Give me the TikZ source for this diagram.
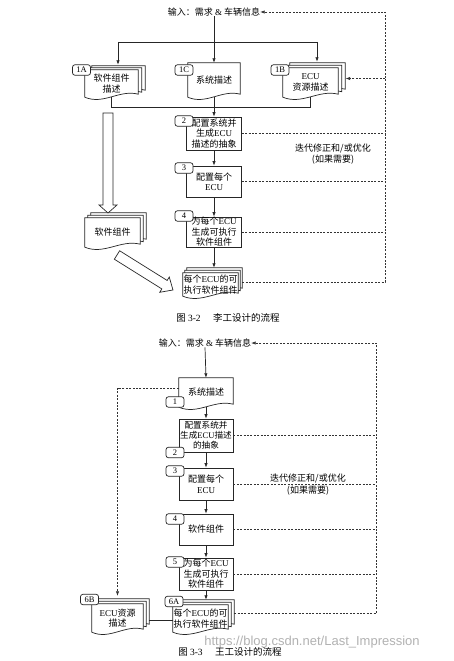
\documentclass[tikz,border=0pt]{standalone}
\usepackage{fontspec}
\setmainfont{Liberation Serif}
\setsansfont{Liberation Sans}
\newfontfamily\cjk{Noto Sans CJK SC}
\usetikzlibrary{arrows.meta,calc}
\pgfdeclarelayer{bg}
\pgfsetlayers{bg,main}
\tikzset{
 ln/.style={line width=0.7pt, draw=black!85},
 arr/.style={ln, -{Latex[length=4.5pt,width=3.4pt]}},
 dsh/.style={line width=0.6pt, draw=black!80, dash pattern=on 2pt off 1.4pt},
 darr/.style={dsh, -{Latex[length=4.5pt,width=3.4pt]}},
 cjkt/.style={font=\cjk\fontsize{9}{10.5}\selectfont, align=center, inner sep=0pt, text=black},
 boxn/.style={cjkt, draw=black!85, line width=0.7pt, fill=white, minimum width=55pt},
 docn/.style={cjkt},
 tagn/.style={draw=black!85, line width=0.7pt, fill=white, rounded corners=2.5pt, minimum width=18pt, minimum height=10.5pt, inner sep=0pt, font=\rmfamily\fontsize{8.5}{8.5}\selectfont},
 docline/.style={line width=0.7pt, draw=black!85, fill=white},
 hollow/.style={line width=0.7pt, draw=black!85, fill=white},
}
\newcommand\docout[3]{%
  \draw[docline] ($(#1.north west)+(#2,#3)$) -- ($(#1.south west)+(#2,#3)$)
   .. controls ($(#1.south west)!0.35!(#1.south east)+(#2,#3)+(0,8)$)
   and ($(#1.south west)!0.65!(#1.south east)+(#2,#3)+(0,-8)$)
   .. ($(#1.south east)+(#2,#3)+(0,-3)$) -- ($(#1.north east)+(#2,#3)$) -- cycle;}
\newcommand\E{{\rmfamily ECU}}
\begin{document}
\begin{tikzpicture}[x=1pt,y=-1pt]
\useasboundingbox (0,0) rectangle (453,661);
\begin{pgfonlayer}{bg}
\fill[white] (0,0) rectangle (453,661);
\end{pgfonlayer}

% ================= top diagram =================
\node[cjkt] (IN1) at (214,12) {输入：需求 {\rmfamily\&} 车辆信息};

\node[docn, minimum width=53pt, minimum height=27pt] (A1) at (111.5,83.5) {软件组件\\描述};
\node[docn, minimum width=52pt, minimum height=34pt] (C1) at (214,80) {系统描述};
\node[docn, minimum width=55pt, minimum height=29pt] (B1) at (310.5,82.5) {\E\\资源描述};

\node[boxn, minimum height=33pt] (B2) at (214,133.5) {配置系统并\\生成\E\\描述的抽象};
\node[boxn, minimum height=31pt] (B3) at (214,181.5) {配置每个\\\E};
\node[boxn, minimum height=30pt] (B4) at (214,232) {为每个\E\\生成可执行\\软件组件};

\node[docn, minimum width=55pt, minimum height=29pt] (SW) at (112.5,232.5) {软件组件};
\node[docn, minimum width=55pt, minimum height=23pt] (F1) at (210.5,284.5) {每个\E 的可\\执行软件组件};

\begin{pgfonlayer}{bg}
\docout{A1}{7}{-4}\docout{A1}{3.5}{-2}\docout{A1}{0}{0}
\docout{C1}{0}{0}
\docout{B1}{7}{-5}\docout{B1}{3.5}{-2.5}\docout{B1}{0}{0}
\docout{SW}{6}{-5}\docout{SW}{3}{-2.5}\docout{SW}{0}{0}
\docout{F1}{4}{-5}\docout{F1}{2}{-2.5}\docout{F1}{0}{0}
\end{pgfonlayer}

\node[tagn] (tA1) at (81.5,70) {1A};
\node[tagn] (tC1) at (184,70) {1C};
\node[tagn] (tB1) at (280,70) {1B};
\node[tagn] (t2) at (184,121) {2};
\node[tagn] (t3) at (184,168) {3};
\node[tagn] (t4) at (184,216) {4};

\coordinate (jL) at (118,42);
\coordinate (jR) at (317,42);
\coordinate (jB) at (214,107);
\draw[arr] (IN1.south) -- (C1.north);
\draw[ln] (jL) -- (jR);
\draw[arr] (jL) -- ($(jL |- A1.north)+(0,-5)$);
\draw[arr] (jR) -- ($(jR |- B1.north)+(0,-6)$);
\draw[ln] (A1.south) -- (A1.south |- jB) -- (B1.south |- jB) -- (B1.south);
\draw[arr] (C1.south) -- (B2.north);
\draw[arr] (B2.south) -- (B3.north);
\draw[arr] (B3.south) -- (B4.north);
\draw[arr] (B4.south) -- ($(B4.south |- F1.north)+(0,-5)$);

% hollow arrows
\draw[hollow] (103,113) -- (113,113) -- (113,205) -- (117,205) -- (108,213) -- (99,205) -- (103,205) -- cycle;
\begin{scope}[shift={(117,255)}, rotate=-32]
\draw[hollow] (0,-5) -- (56,-5) -- (56,-9) -- (66,0) -- (56,9) -- (56,5) -- (0,5) -- cycle;
\end{scope}

% iteration feedback
\coordinate (R1) at (385,12);
\coordinate (Fe) at ($(F1.east)+(4,-2.5)$);
\coordinate (Bt) at ($(B1.east)+(7.5,-4)$);
\draw[darr] (Fe) -| (R1) -- (IN1.east);
\draw[darr] (R1 |- Bt) -- (Bt);
\draw[dsh] (B2.east) -- (B2.east -| R1);
\draw[dsh] (B3.east) -- (B3.east -| R1);
\draw[dsh] (B4.east) -- (B4.east -| R1);
\node[cjkt] (it1) at (333,154) {迭代修正和/或优化\\(如果需要)};

\node[cjkt, font=\cjk\fontsize{9.5}{11}\selectfont] (cap1) at (228,318) {图 {\rmfamily 3-2}\hspace{1.3em}李工设计的流程};

% ================= bottom diagram =================
\node[cjkt] (IN2) at (205,343) {输入：需求 {\rmfamily\&} 车辆信息};

\node[docn, minimum width=54pt, minimum height=29pt] (S2) at (206,392.5) {系统描述};
\node[boxn, minimum width=54pt, minimum height=33pt, font=\cjk\fontsize{8.6}{10}\selectfont] (C2) at (206,435.5) {配置系统并\\生成\E 描述\\的抽象};
\node[boxn, minimum width=54pt, minimum height=32pt] (C3) at (206,484) {配置每个\\\E};
\node[boxn, minimum width=54pt, minimum height=31pt] (C4) at (206,529.5) {软件组件};
\node[boxn, minimum width=54pt, minimum height=32pt] (C5) at (206,574) {为每个\E\\生成可执行\\软件组件};

\node[docn, minimum width=55pt, minimum height=27pt] (A6) at (200.5,618.5) {每个\E 的可\\执行软件组件};
\node[docn, minimum width=51pt, minimum height=28pt] (B6) at (117.5,618) {\E 资源\\描述};

\begin{pgfonlayer}{bg}
\docout{S2}{0}{0}
\docout{A6}{6}{-5}\docout{A6}{3}{-2.5}\docout{A6}{0}{0}
\docout{B6}{6}{-5}\docout{B6}{3}{-2.5}\docout{B6}{0}{0}
\end{pgfonlayer}

\node[tagn] (u1) at (175,402) {1};
\node[tagn] (u2) at (175,452.5) {2};
\node[tagn] (u3) at (175,471) {3};
\node[tagn] (u4) at (175,519) {4};
\node[tagn] (u5) at (175,562) {5};
\node[tagn] (u6A) at (174,601.5) {6A};
\node[tagn] (u6B) at (89.5,599.5) {6B};

\draw[arr] (IN2.south) -- (S2.north);
\draw[arr] (S2.south) -- (C2.north);
\draw[arr] (C2.south) -- (C3.north);
\draw[arr] (C3.south) -- (C4.north);
\draw[arr] (C4.south) -- (C5.north);
\draw[arr] (C5.south) -- ($(C5.south |- A6.north)+(0,-5)$);

\coordinate (l6) at ($(B6.east)+(6,2)$);
\draw[ln] (l6) -- (l6 -| A6.west);

\coordinate (R2) at (376,343);
\coordinate (Ae) at ($(A6.east)+(6,-5)$);
\draw[darr] (Ae) -| (R2) -- (IN2.east);
\draw[dsh] (C2.east) -- (C2.east -| R2);
\draw[dsh] (C3.east) -- (C3.east -| R2);
\draw[dsh] (C4.east) -- (C4.east -| R2);
\draw[dsh] (C5.east) -- (C5.east -| R2);
\coordinate (Sw) at ($(S2.west)+(0,-4.5)$);
\draw[darr] (Sw) -| ($(B6.north)+(0,-8)$);
\node[cjkt] (it2) at (308,484.5) {迭代修正和/或优化\\[1pt](如果需要)};

\node[font=\sffamily\fontsize{13}{13}\selectfont, text=black!30, inner sep=0pt] (wm) at (312,642) {https://blog.csdn.net/Last\_Impression};
\node[cjkt, font=\cjk\fontsize{9.5}{11}\selectfont] (cap2) at (230,652) {图 {\rmfamily 3-3}\hspace{1.3em}王工设计的流程};
\end{tikzpicture}
\end{document}
